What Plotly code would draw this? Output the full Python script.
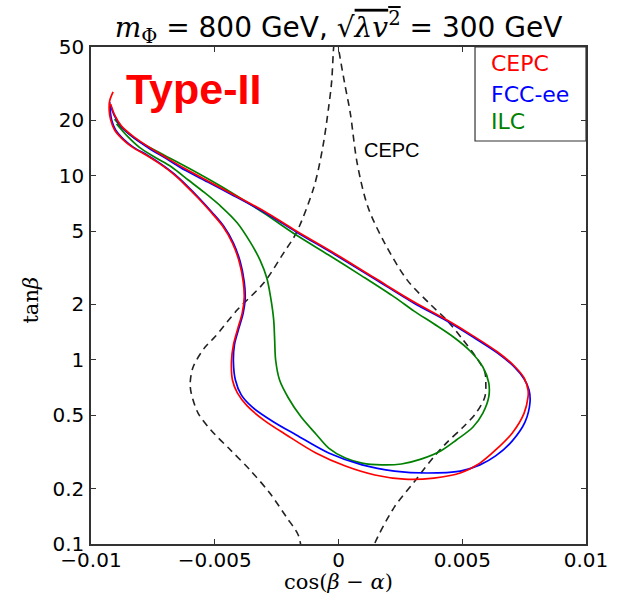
import plotly.graph_objects as go

# ---------------- data ----------------
# CEPC (red) closed contour: cos(beta-alpha), tan(beta)
cepc_x = [-9.107e-3, -9.245e-3, -9.265e-3, -9.206e-3, -9.047e-3, -8.730e-3, -8.333e-3, -7.777e-3,
          -7.261e-3, -6.666e-3, -6.190e-3, -5.674e-3, -5.158e-3, -4.682e-3, -4.285e-3, -4.008e-3,
          -3.849e-3, -3.809e-3, -3.889e-3, -4.087e-3, -4.246e-3, -4.325e-3, -4.285e-3, -4.087e-3,
          -3.690e-3, -3.016e-3, -2.103e-3, -0.913e-3, 0.278e-3, 1.468e-3, 2.659e-3, 3.849e-3,
          4.920e-3, 5.714e-3, 6.349e-3, 7.023e-3, 7.500e-3, 7.658e-3, 7.658e-3, 7.500e-3,
          7.103e-3, 6.428e-3, 5.436e-3, 4.365e-3, 3.055e-3, 1.468e-3, -0.119e-3, -1.706e-3,
          -3.016e-3, -4.365e-3, -5.277e-3, -6.190e-3, -6.944e-3, -7.658e-3, -8.253e-3, -8.769e-3,
          -9.047e-3, -9.206e-3]
cepc_y = [28.5, 25.5, 22.7, 20.1, 17.7, 15.8, 14.3, 12.96, 11.7, 10.2, 8.90, 7.57, 6.35, 5.33,
          4.31, 3.40, 2.65, 2.17, 1.80, 1.45, 1.204, 0.974, 0.777, 0.661, 0.562, 0.471, 0.391,
          0.312, 0.265, 0.237, 0.225, 0.228, 0.243, 0.275, 0.324, 0.401, 0.514, 0.629, 0.686,
          0.797, 0.926, 1.103, 1.35, 1.65, 2.06, 2.78, 3.76, 5.01, 6.43, 8.06, 9.36, 10.9, 12.5,
          14.3, 16.2, 18.6, 21.4, 24.5]

# FCC-ee (blue)
fcc_x = [-9.245e-3, -9.226e-3, -9.166e-3, -9.007e-3, -8.690e-3, -8.293e-3, -7.738e-3, -7.222e-3,
         -6.627e-3, -6.150e-3, -5.635e-3, -5.119e-3, -4.643e-3, -4.246e-3, -3.968e-3, -3.809e-3,
         -3.770e-3, -3.849e-3, -4.047e-3, -4.206e-3, -4.246e-3, -4.166e-3, -3.928e-3, -3.492e-3,
         -2.619e-3, -1.706e-3, -0.397e-3, 0.952e-3, 2.262e-3, 3.571e-3, 4.920e-3, 5.714e-3,
         6.349e-3, 7.023e-3, 7.539e-3, 7.738e-3, 7.698e-3, 7.500e-3, 7.103e-3, 6.428e-3,
         5.436e-3, 4.365e-3, 3.055e-3, 1.468e-3, -0.119e-3, -1.706e-3, -3.016e-3, -4.365e-3,
         -5.277e-3, -6.190e-3, -6.944e-3, -7.658e-3, -8.253e-3, -8.769e-3, -9.047e-3, -9.206e-3]
fcc_y = [25.1, 22.7, 20.1, 17.7, 15.8, 14.3, 12.96, 11.7, 10.2, 8.90, 7.57, 6.35, 5.33, 4.31,
         3.40, 2.65, 2.17, 1.80, 1.45, 1.204, 0.974, 0.777, 0.645, 0.555, 0.460, 0.391, 0.312,
         0.269, 0.249, 0.243, 0.249, 0.269, 0.301, 0.363, 0.460, 0.590, 0.686, 0.787, 0.915,
         1.089, 1.33, 1.63, 2.03, 2.75, 3.71, 4.95, 6.35, 7.96, 9.24, 10.7, 12.35, 14.1, 16.0,
         18.4, 21.1, 24.0]

# ILC (green)
ilc_x = [-9.047e-3, -8.690e-3, -8.253e-3, -7.658e-3, -6.984e-3, -5.674e-3, -4.365e-3, -3.016e-3,
         -1.706e-3, -0.397e-3, 0.952e-3, 2.262e-3, 3.055e-3, 3.849e-3, 4.643e-3, 5.317e-3,
         5.833e-3, 6.071e-3, 6.071e-3, 5.833e-3, 5.436e-3, 4.762e-3, 4.127e-3, 3.333e-3,
         2.540e-3, 1.746e-3, 0.952e-3, 0.278e-3, -0.397e-3, -0.913e-3, -1.508e-3, -2.024e-3,
         -2.381e-3, -2.540e-3, -2.579e-3, -2.619e-3, -2.738e-3, -2.897e-3, -3.174e-3, -3.571e-3,
         -4.087e-3, -4.722e-3, -5.396e-3, -6.071e-3, -6.746e-3, -7.420e-3, -8.055e-3, -8.531e-3,
         -8.968e-3]
ilc_y = [20.3, 17.9, 16.0, 14.3, 12.8, 10.3, 8.16, 6.27, 4.76, 3.71, 2.85, 2.19, 1.84, 1.57, 1.33,
         1.117, 0.915, 0.749, 0.629, 0.514, 0.432, 0.367, 0.320, 0.289, 0.272, 0.269, 0.275,
         0.293, 0.332, 0.396, 0.489, 0.621, 0.777, 0.998, 1.28, 1.65, 2.17, 2.78, 3.49, 4.37,
         5.54, 6.76, 8.06, 9.48, 11.15, 12.6, 14.3, 16.4, 19.1]

# CEPC dashed boundaries (left and right branch)
dash_left_x = [-1.508e-3, -1.627e-3, -2.103e-3, -2.778e-3, -3.571e-3, -4.365e-3, -5.158e-3,
               -5.674e-3, -5.952e-3, -5.992e-3, -5.873e-3, -5.396e-3, -5.000e-3, -4.087e-3,
               -3.016e-3, -2.222e-3, -1.706e-3, -0.992e-3, -0.635e-3, -0.397e-3, -0.278e-3,
               -0.198e-3, -0.159e-3]
dash_left_y = [0.095, 0.112, 0.140, 0.189, 0.252, 0.324, 0.416, 0.514, 0.661, 0.749, 0.915, 1.17,
               1.33, 1.87, 2.62, 3.80, 4.89, 8.69, 14.3, 23.6, 32.3, 49.4, 54.6]
dash_right_x = [-0.040e-3, 0.0, 0.238e-3, 0.476e-3, 0.754e-3, 1.190e-3, 1.865e-3, 2.778e-3,
                3.730e-3, 4.365e-3, 5.039e-3, 5.555e-3, 5.912e-3, 5.952e-3, 5.912e-3, 5.555e-3,
                5.039e-3, 4.365e-3, 3.849e-3, 3.333e-3, 3.055e-3, 2.262e-3, 1.468e-3, 1.389e-3]
dash_right_y = [54.6, 49.4, 32.3, 21.9, 11.7, 6.76, 4.31, 2.71, 1.99, 1.65, 1.28, 1.036, 0.859,
                0.749, 0.629, 0.514, 0.432, 0.354, 0.297, 0.243, 0.217, 0.159, 0.101, 0.0928]

x_ticks = [-0.01, -0.005, 0, 0.005, 0.01]
x_tick_text = ["\u22120.01", "\u22120.005", "0", "0.005", "0.01"]
y_ticks = [0.1, 0.2, 0.5, 1, 2, 5, 10, 20, 50]
y_tick_text = ["0.1", "0.2", "0.5", "1", "2", "5", "10", "20", "50"]

legend_names = ["CEPC", "FCC-ee", "ILC"]
legend_colors = ["#ff0000", "#0000ff", "#008000"]

# ---------------- figure ----------------
fig = go.Figure()
for xs, ys in [(dash_left_x, dash_left_y), (dash_right_x, dash_right_y)]:
    fig.add_trace(go.Scatter(x=xs, y=ys, mode="lines",
                             line=dict(color="#222222", width=1.6, dash="7px,5px",
                                       shape="spline", smoothing=0.9),
                             hoverinfo="skip"))
fig.add_trace(go.Scatter(x=ilc_x, y=ilc_y, mode="lines", name="ILC",
                         line=dict(color=legend_colors[2], width=1.7, shape="spline", smoothing=0.9)))
fig.add_trace(go.Scatter(x=fcc_x, y=fcc_y, mode="lines", name="FCC-ee",
                         line=dict(color=legend_colors[1], width=1.7, shape="spline", smoothing=0.9)))
fig.add_trace(go.Scatter(x=cepc_x, y=cepc_y, mode="lines", name="CEPC",
                         line=dict(color=legend_colors[0], width=1.7, shape="spline", smoothing=0.9)))

axis_common = dict(showline=True, linecolor="#333333", linewidth=1.5, mirror="ticks",
                   ticks="inside", ticklen=5, tickwidth=1, tickcolor="#333333",
                   showgrid=False, zeroline=False,
                   tickfont=dict(family="DejaVu Sans", size=20, color="black"))

fig.update_layout(
    width=620, height=606,
    margin=dict(l=91, r=25, t=47, b=62),
    paper_bgcolor="white", plot_bgcolor="white",
    showlegend=False,
    xaxis=dict(range=[-0.01, 0.01], tickvals=x_ticks, ticktext=x_tick_text,
               ticklabelstandoff=-3, **axis_common),
    yaxis=dict(type="log", range=[-1, 1.69897], tickvals=y_ticks, ticktext=y_tick_text,
               ticklabelstandoff=1, **axis_common),
    title=dict(
        text=("<span style='font-family:DejaVu Serif'><i>m</i><sub>\u03a6</sub></span>"
              " = 800 GeV, \u221a<span style='font-family:DejaVu Serif;text-decoration:overline'>"
              "<i>\u03bbv</i><sup>2</sup></span> = 300 GeV"),
        x=0.5, xref="paper", xanchor="center",
        y=1 - 27 / 606, yref="container", yanchor="middle",
        font=dict(family="DejaVu Sans", size=28, color="black")),
)

annotations = [
    dict(text="<b>Type-II</b>", x=0.0675, y=0.915, xref="paper", yref="paper",
         xanchor="left", yanchor="middle", showarrow=False,
         font=dict(family="Liberation Sans", size=43, color="#ff0000")),
    dict(text="CEPC", x=0.5476, y=0.7928, xref="paper", yref="paper",
         xanchor="left", yanchor="middle", showarrow=False,
         font=dict(family="Liberation Sans", size=20, color="black")),
    dict(text="cos(<i>\u03b2</i> \u2212 <i>\u03b1</i>)", x=0.5, y=-0.0765, xref="paper", yref="paper",
         xanchor="center", yanchor="middle", showarrow=False,
         font=dict(family="DejaVu Serif", size=21, color="black")),
    dict(text="tan<i>\u03b2</i>", x=-0.121, y=0.49, xref="paper", yref="paper",
         xanchor="center", yanchor="middle", showarrow=False, textangle=-90,
         font=dict(family="DejaVu Serif", size=21, color="black")),
]
legend_y = [0.9658, 0.9054, 0.8491]
for name, col, ly in zip(legend_names, legend_colors, legend_y):
    annotations.append(dict(text=name, x=0.8036, y=ly, xref="paper", yref="paper",
                            xanchor="left", yanchor="middle", showarrow=False,
                            font=dict(family="DejaVu Sans", size=22, color=col)))
fig.update_layout(annotations=annotations)

fig.add_shape(type="rect", xref="paper", yref="paper", x0=0.7758, x1=1.0, y0=0.8109, y1=1.0,
              line=dict(color="#333333", width=1.2), fillcolor="rgba(0,0,0,0)", layer="above")

fig.write_html("out.html")
